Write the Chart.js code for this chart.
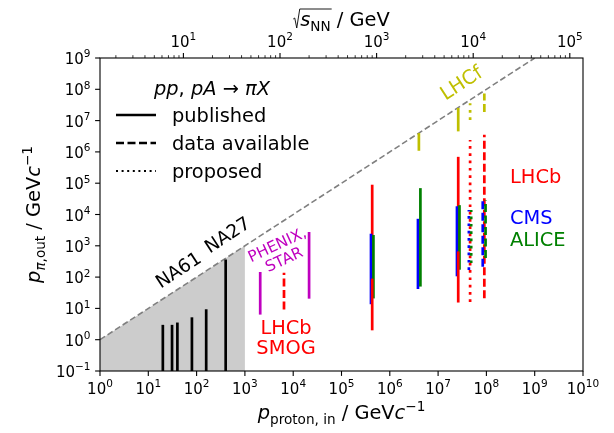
<!DOCTYPE html>
<html>
<head>
<meta charset="utf-8">
<script src="https://cdn.jsdelivr.net/npm/chart.js@4.4.0/dist/chart.umd.min.js"></script>
<style>
  body { margin: 0; background: #fff; }
  canvas { display: block; }
</style>
</head>
<body>
<canvas id="kinematicsChart" width="614" height="433"></canvas>
<script>
// proton mass used for sqrt(s_NN) = sqrt(2 m p) on the top axis
const PROTON_MASS = 0.938;

// NA61 / NA27 (published)
const naMomenta = [20, 31, 40, 80, 158, 400];
const naPtLow = [0.1, 0.1, 0.1, 0.1, 0.1, 0.1];
const naPtHigh = [2.7, 2.7, 3.2, 4.7, 8.5, 330];

// PHENIX / STAR (published)
const rhicMomenta = [2075, 21320];
const rhicPtLow = [7, 22.6];
const rhicPtHigh = [132, 2500];

// LHCb SMOG (data available)
const smogMomenta = [6450];
const smogPtLow = [9.3];
const smogPtHigh = [138];

// LHCf
const lhcfPubMomenta = [4.0e6, 2.61e7];
const lhcfPubLow = [1.2e6, 5.0e6];
const lhcfPubHigh = [3.6e6, 2.3e7];
const lhcfPropMomenta = [4.6e7];
const lhcfPropLow = [1.05e7];
const lhcfPropHigh = [3.6e7];
const lhcfDataMomenta = [9.06e7];
const lhcfDataLow = [1.9e7];
const lhcfDataHigh = [7.4e7];

// LHCb published, upper and lower parts
const lhcbPubMomenta = [4.32e5, 2.61e7];
const lhcbUpperLow = [81, 600];
const lhcbUpperHigh = [8.1e4, 6.3e5];
const lhcbLowerLow = [2.2, 17];
const lhcbLowerHigh = [81, 600];
const lhcbPropMomenta = [4.6e7];
const lhcbPropLow = [16];
const lhcbPropHigh = [2.4e6];
const lhcbDataMomenta = [9.06e7];
const lhcbDataLow = [21];
const lhcbDataHigh = [3.5e6];

// CMS
const cmsPubMomenta = [4.08e5, 3.83e6, 2.46e7];
const cmsPubLow = [15, 46, 117];
const cmsPubHigh = [2200, 6600, 1.66e4];
const cmsPropMomenta = [4.34e7];
const cmsPropLow = [170];
const cmsPropHigh = [1.4e4];
const cmsDataMomenta = [8.4e7];
const cmsDataLow = [215];
const cmsDataHigh = [2.9e4];

// ALICE
const alicePubMomenta = [4.58e5, 4.30e6, 2.77e7];
const alicePubLow = [23, 55, 190];
const alicePubHigh = [2000, 6.3e4, 1.8e4];
const alicePropMomenta = [4.84e7];
const alicePropLow = [280];
const alicePropHigh = [1.4e4];
const aliceDataMomenta = [9.6e7];
const aliceDataLow = [410];
const aliceDataHigh = [2.9e4];

// kinematic limit p_out = p_in, shaded fixed-target region up to 1e3
const limitMomenta = [1, 1e9];
const shadedMomenta = [1, 1e3];

const xTickExps = [0, 1, 2, 3, 4, 5, 6, 7, 8, 9, 10];
const yTickExps = [-1, 0, 1, 2, 3, 4, 5, 6, 7, 8, 9];
const topTickExps = [1, 2, 3, 4, 5];

const COLORS = { k: '#000000', r: '#ff0000', b: '#0000ff', g: '#008000', m: '#bf00bf', y: '#bfbf00' };
const DASHES = { published: [], available: [8, 3.5], proposed: [2.7, 4.6] };
const LW = 2.7;
const FONT = '"DejaVu Sans", sans-serif';

function font(size, italic) {
    return (italic ? 'italic ' : '') + size + 'px ' + FONT;
}

const datasets = [];
function addSegments(xs, lows, highs, color, kind) {
    xs.forEach((x, i) => {
        datasets.push({
            data: [{ x: x, y: lows[i] }, { x: x, y: highs[i] }],
            borderColor: color,
            borderWidth: LW,
            borderDash: DASHES[kind],
            borderCapStyle: kind === 'published' ? 'square' : 'butt',
            pointRadius: 0,
            fill: false
        });
    });
}

datasets.push({
    data: shadedMomenta.map(p => ({ x: p, y: p })),
    borderWidth: 0,
    borderColor: 'rgba(0,0,0,0)',
    backgroundColor: '#cccccc',
    fill: 'start',
    pointRadius: 0
});
datasets.push({
    data: limitMomenta.map(p => ({ x: p, y: p })),
    borderColor: '#808080',
    borderWidth: 1.6,
    borderDash: [6, 3],
    pointRadius: 0,
    fill: false
});

addSegments(naMomenta, naPtLow, naPtHigh, COLORS.k, 'published');
addSegments(rhicMomenta, rhicPtLow, rhicPtHigh, COLORS.m, 'published');
addSegments(smogMomenta, smogPtLow, smogPtHigh, COLORS.r, 'available');
addSegments(lhcfPubMomenta, lhcfPubLow, lhcfPubHigh, COLORS.y, 'published');
addSegments(lhcfPropMomenta, lhcfPropLow, lhcfPropHigh, COLORS.y, 'proposed');
addSegments(lhcfDataMomenta, lhcfDataLow, lhcfDataHigh, COLORS.y, 'available');
addSegments(lhcbPubMomenta, lhcbUpperLow, lhcbUpperHigh, COLORS.r, 'published');
addSegments(cmsPubMomenta, cmsPubLow, cmsPubHigh, COLORS.b, 'published');
addSegments(alicePubMomenta, alicePubLow, alicePubHigh, COLORS.g, 'published');
addSegments(lhcbPubMomenta, lhcbLowerLow, lhcbLowerHigh, COLORS.r, 'published');
addSegments(lhcbPropMomenta, lhcbPropLow, lhcbPropHigh, COLORS.r, 'proposed');
addSegments(cmsPropMomenta, cmsPropLow, cmsPropHigh, COLORS.b, 'proposed');
addSegments(alicePropMomenta, alicePropLow, alicePropHigh, COLORS.g, 'proposed');
addSegments(lhcbDataMomenta, lhcbDataLow, lhcbDataHigh, COLORS.r, 'available');
addSegments(cmsDataMomenta, cmsDataLow, cmsDataHigh, COLORS.b, 'available');
addSegments(aliceDataMomenta, aliceDataLow, aliceDataHigh, COLORS.g, 'available');

// later datasets on top, like matplotlib
datasets.forEach((d, i) => { d.order = datasets.length - i; });

// rich text: parts = [{t, s, i, dy}]
function richWidth(ctx, parts) {
    let w = 0;
    parts.forEach(p => { ctx.font = font(p.s, p.i); w += ctx.measureText(p.t).width; });
    return w;
}
function drawRich(ctx, parts, x, y, align) {
    const w = richWidth(ctx, parts);
    let cx = align === 'center' ? x - w / 2 : align === 'right' ? x - w : x;
    ctx.textAlign = 'left';
    ctx.textBaseline = 'alphabetic';
    parts.forEach(p => {
        ctx.font = font(p.s, p.i);
        ctx.fillText(p.t, cx, y + (p.dy || 0));
        cx += ctx.measureText(p.t).width;
    });
    return w;
}
function powerLabel(n) {
    return [{ t: '10', s: 15 }, { t: String(n).replace('-', '\u2212'), s: 10.5, dy: -6.6 }];
}

const axesPlugin = {
    id: 'axesPlugin',
    afterDraw(chart) {
        const ctx = chart.ctx;
        const a = chart.chartArea;
        const xs = chart.scales.x, ys = chart.scales.y, xt = chart.scales.x2;
        ctx.save();
        ctx.fillStyle = '#000';
        ctx.strokeStyle = '#000';

        // frame
        ctx.lineWidth = 1.1;
        ctx.setLineDash([]);
        ctx.strokeRect(a.left, a.top, a.right - a.left, a.bottom - a.top);

        // bottom ticks
        xTickExps.forEach(n => {
            const px = xs.getPixelForValue(Math.pow(10, n));
            ctx.beginPath(); ctx.moveTo(px, a.bottom); ctx.lineTo(px, a.bottom + 4.9); ctx.stroke();
            drawRich(ctx, powerLabel(n), px, a.bottom + 22.5, 'center');
        });
        // left ticks
        yTickExps.forEach(n => {
            const py = ys.getPixelForValue(Math.pow(10, n));
            ctx.beginPath(); ctx.moveTo(a.left, py); ctx.lineTo(a.left - 4.9, py); ctx.stroke();
            drawRich(ctx, powerLabel(n), a.left - 9.5, py + 6, 'right');
        });
        // top ticks (sqrt s_NN)
        const lo = Math.floor(Math.log10(xt.min)), hi = Math.ceil(Math.log10(xt.max));
        for (let n = lo; n <= hi; n++) {
            for (let k = 1; k <= 9; k++) {
                const v = k * Math.pow(10, n);
                if (v < xt.min || v > xt.max) continue;
                const px = xt.getPixelForValue(v);
                ctx.lineWidth = k === 1 ? 1.1 : 0.8;
                ctx.beginPath(); ctx.moveTo(px, a.top); ctx.lineTo(px, a.top - (k === 1 ? 4.9 : 2.8)); ctx.stroke();
            }
        }
        topTickExps.forEach(n => {
            const px = xt.getPixelForValue(Math.pow(10, n));
            drawRich(ctx, powerLabel(n), px, a.top - 11, 'center');
        });

        // axis titles
        const cxMid = (a.left + a.right) / 2;
        drawRich(ctx, [
            { t: 'p', s: 19.4, i: true },
            { t: 'proton, in', s: 13.6, dy: 4.5 },
            { t: ' / GeV', s: 19.4 },
            { t: 'c', s: 19.4, i: true },
            { t: '\u22121', s: 13.6, dy: -8.5 }
        ], cxMid, 419, 'center');

        ctx.save();
        ctx.translate(40, (a.top + a.bottom) / 2);
        ctx.rotate(-Math.PI / 2);
        drawRich(ctx, [
            { t: 'p', s: 19.4, i: true },
            { t: '\u03c0', s: 13.6, i: true, dy: 4.5 },
            { t: ',out', s: 13.6, dy: 4.5 },
            { t: ' / GeV', s: 19.4 },
            { t: 'c', s: 19.4, i: true },
            { t: '\u22121', s: 13.6, dy: -8.5 }
        ], 0, 0, 'center');
        ctx.restore();

        // top title with radical
        const topParts = [
            { t: 's', s: 19.4, i: true },
            { t: 'NN', s: 13.6, dy: 4.5 },
            { t: ' / GeV', s: 19.4 }
        ];
        const base = 26;
        const radW = 7;
        const tw = richWidth(ctx, topParts) + radW;
        const x0 = cxMid - tw / 2;
        drawRich(ctx, topParts, x0 + radW, base, 'left');
        const sw = richWidth(ctx, topParts.slice(0, 2));
        ctx.lineWidth = 0.9;
        ctx.beginPath();
        ctx.moveTo(x0, base - 7);
        ctx.lineTo(x0 + 1.5, base - 8);
        ctx.lineTo(x0 + 3.5, base + 2);
        ctx.lineTo(x0 + radW - 0.5, base - 17);
        ctx.lineTo(x0 + radW + sw + 1, base - 17);
        ctx.stroke();

        // legend
        ctx.fillStyle = '#000';
        drawRich(ctx, [
            { t: 'pp', s: 19.4, i: true },
            { t: ', ', s: 19.4 },
            { t: 'pA', s: 19.4, i: true },
            { t: ' \u2192 ', s: 19.4 },
            { t: '\u03c0X', s: 19.4, i: true }
        ], 212, 95, 'center');
        const rows = [['published', 'published', 115], ['data available', 'available', 143], ['proposed', 'proposed', 171]];
        rows.forEach(r => {
            ctx.lineWidth = r[1] === 'proposed' ? 2 : LW;
            ctx.setLineDash(r[1] === 'proposed' ? [2, 3.6] : DASHES[r[1]]);
            ctx.lineCap = 'butt';
            ctx.beginPath(); ctx.moveTo(116, r[2]); ctx.lineTo(156, r[2]); ctx.stroke();
            ctx.setLineDash([]);
            drawRich(ctx, [{ t: r[0], s: 19.4 }], 172, r[2] + 6.5, 'left');
        });

        // annotations
        const rot = -33 * Math.PI / 180;
        function label(lines, x, y, color, angle, size, align) {
            ctx.save();
            ctx.translate(x, y);
            ctx.rotate(angle);
            ctx.fillStyle = color;
            ctx.font = font(size);
            ctx.textAlign = align || 'center';
            ctx.textBaseline = 'middle';
            const lh = size * 1.05;
            lines.forEach((t, i) => ctx.fillText(t, 0, (i - (lines.length - 1) / 2) * lh));
            ctx.restore();
        }
        label(['NA61'], 179, 271, COLORS.k, rot, 18.5);
        label(['NA27'], 228, 236, COLORS.k, rot, 18.5);
        label(['PHENIX,', 'STAR'], 281, 253, COLORS.m, -25 * Math.PI / 180, 15.5);
        label(['LHCb', 'SMOG'], 286, 339, COLORS.r, 0, 19.4);
        label(['LHCf'], 462, 84, COLORS.y, rot, 19.4);
        label(['LHCb'], 510, 178, COLORS.r, 0, 19.4, 'left');
        label(['CMS'], 510, 219, COLORS.b, 0, 19.4, 'left');
        label(['ALICE'], 510, 241, COLORS.g, 0, 19.4, 'left');

        ctx.restore();
    }
};

new Chart(document.getElementById('kinematicsChart'), {
    type: 'line',
    data: { datasets: datasets },
    options: {
        responsive: false,
        animation: false,
        devicePixelRatio: 1,
        layout: { padding: { left: 100, right: 31, top: 58, bottom: 62 } },
        plugins: { legend: { display: false }, tooltip: { enabled: false } },
        scales: {
            x: { type: 'logarithmic', min: 1, max: 1e10, display: false },
            y: { type: 'logarithmic', min: 0.1, max: 1e9, display: false },
            x2: {
                type: 'logarithmic', position: 'top', display: false,
                min: Math.sqrt(2 * PROTON_MASS * 1),
                max: Math.sqrt(2 * PROTON_MASS * 1e10)
            }
        }
    },
    plugins: [axesPlugin]
});
</script>
</body>
</html>
